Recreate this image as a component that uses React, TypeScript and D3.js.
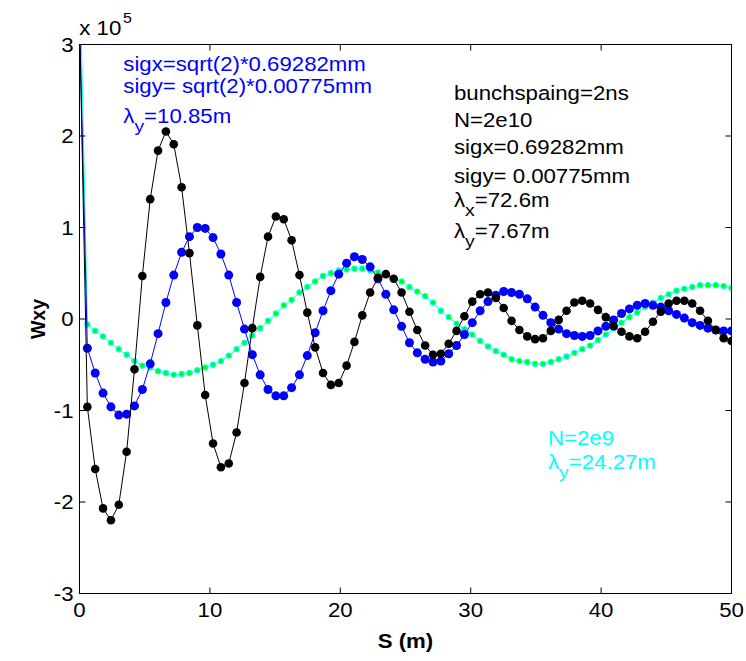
import React from 'react';
import * as d3 from 'd3';

const W = 746;
const H = 661;
const STEP = 50 / 83; // sample spacing (m)

// Wxy values in units of 1e5, one per sample (s = k * STEP)
const blackW = [
  3.3, -0.96, -1.64, -2.07, -2.2, -2.03, -1.45, -0.55, 0.47, 1.31,
  1.84, 2.05, 1.91, 1.44, 0.72, -0.07, -0.83, -1.36, -1.62, -1.58,
  -1.24, -0.7, -0.1, 0.46, 0.9, 1.12, 1.09, 0.86, 0.48, 0.07,
  -0.31, -0.59, -0.72, -0.7, -0.51, -0.25, 0.04, 0.29, 0.45, 0.49,
  0.44, 0.29, 0.08, -0.12, -0.29, -0.39, -0.38, -0.27, -0.13, 0.03,
  0.19, 0.27, 0.29, 0.23, 0.12, -0.02, -0.12, -0.19, -0.22, -0.21,
  -0.13, -0.01, 0.09, 0.18, 0.2, 0.17, 0.1, 0.02, -0.08, -0.14,
  -0.19, -0.21, -0.14, -0.03, 0.08, 0.17, 0.2, 0.2, 0.17, 0.09,
  -0.02, -0.12, -0.21, -0.24,
];
const blueW = [
  3.3, -0.32, -0.59, -0.81, -0.96, -1.05, -1.04, -0.95, -0.77, -0.49,
  -0.16, 0.18, 0.48, 0.73, 0.9, 1.0, 0.99, 0.89, 0.71, 0.48,
  0.18, -0.11, -0.39, -0.61, -0.77, -0.84, -0.84, -0.75, -0.61, -0.4,
  -0.15, 0.09, 0.31, 0.49, 0.61, 0.68, 0.65, 0.57, 0.44, 0.27,
  0.1, -0.08, -0.26, -0.37, -0.44, -0.47, -0.46, -0.38, -0.29, -0.17,
  -0.04, 0.09, 0.19, 0.26, 0.3, 0.29, 0.27, 0.22, 0.13, 0.04,
  -0.04, -0.11, -0.16, -0.18, -0.19, -0.18, -0.13, -0.08, -0.01, 0.06,
  0.11, 0.15, 0.17, 0.15, 0.13, 0.09, 0.05, 0.01, -0.04, -0.07,
  -0.1, -0.12, -0.13, -0.13,
];
const greenW = [
  4.0, -0.06, -0.13, -0.19, -0.26, -0.33, -0.39, -0.46, -0.51, -0.53,
  -0.57, -0.59, -0.61, -0.6, -0.59, -0.56, -0.53, -0.5, -0.46, -0.4,
  -0.33, -0.26, -0.18, -0.1, -0.02, 0.06, 0.15, 0.21, 0.29, 0.35,
  0.41, 0.47, 0.5, 0.53, 0.54, 0.55, 0.55, 0.53, 0.51, 0.48,
  0.45, 0.41, 0.35, 0.3, 0.25, 0.18, 0.09, 0.02, -0.05, -0.11,
  -0.17, -0.24, -0.3, -0.35, -0.39, -0.44, -0.46, -0.47, -0.49, -0.49,
  -0.47, -0.44, -0.41, -0.37, -0.33, -0.29, -0.23, -0.17, -0.1, -0.04,
  0.02, 0.07, 0.13, 0.18, 0.23, 0.27, 0.31, 0.33, 0.35, 0.37,
  0.37, 0.37, 0.36, 0.34,
];

const xTicks = [0, 10, 20, 30, 40, 50];
const yTicks = [-3, -2, -1, 0, 1, 2, 3];

const FONT = '"Liberation Sans", Arial, Helvetica, sans-serif';
const FS = 19.5;
const SX = 1.14;
const SUB = 17;

function T(props: any) {
  const { x, y, anchor = 'start', fill = '#000', weight = 'normal', size = FS, dy, children } = props;
  return (
    <text
      transform={`translate(${x},${y}) scale(${SX},1)`}
      textAnchor={anchor}
      fill={fill}
      fontWeight={weight}
      fontSize={size}
      fontFamily={FONT}
      dy={dy}
    >
      {children}
    </text>
  );
}

function Lam(props: any) {
  const { x, y, sub, rest, fill = '#000' } = props;
  return (
    <T x={x} y={y} fill={fill}>
      λ
      <tspan dy={9} fontSize={SUB}>{sub}</tspan>
      <tspan dy={-9} fontSize={FS}>{rest}</tspan>
    </T>
  );
}

export default function App() {
  const L = 79.5, R = 731.5, Tp = 44.5, B = 593.5;
  const x = d3.scaleLinear().domain([0, 50]).range([L, R]);
  const y = d3.scaleLinear().domain([-3, 3]).range([B, Tp]);
  const line = d3
    .line<number>()
    .x((_, i) => x(i * STEP))
    .y((d) => y(d));
  const tick = 6;

  return (
    <svg
      width={W}
      height={H}
      style={{ position: 'absolute', left: 0, top: 0, background: '#fff' }}
    >
      <rect x={0} y={0} width={W} height={H} fill="#fff" />
      <defs>
        <clipPath id="plotclip">
          <rect x={L} y={Tp} width={R - L} height={B - Tp} />
        </clipPath>
      </defs>

      <g clipPath="url(#plotclip)">
        {/* green series (N=2e9) */}
        <path d={line(greenW) || ''} fill="none" stroke="#00ffff" strokeWidth={1} />
        {greenW.map((d, i) => (
          <circle key={'g' + i} cx={x(i * STEP)} cy={y(d)} r={2.6} fill="#00ff00" stroke="#00ffff" strokeWidth={1.1} />
        ))}
        {/* blue series */}
        <path d={line(blueW) || ''} fill="none" stroke="#0000ff" strokeWidth={1} />
        {blueW.map((d, i) => (
          <circle key={'b' + i} cx={x(i * STEP)} cy={y(d)} r={4.5} fill="#0000ff" />
        ))}
        {/* black series */}
        <path d={line(blackW) || ''} fill="none" stroke="#000" strokeWidth={1} />
        {blackW.map((d, i) => (
          <circle key={'k' + i} cx={x(i * STEP)} cy={y(d)} r={4.3} fill="#000" />
        ))}
      </g>

      {/* axes box */}
      <rect x={L} y={Tp} width={R - L} height={B - Tp} fill="none" stroke="#000" strokeWidth={1} />
      {xTicks.map((t) => (
        <g key={'xt' + t}>
          <line x1={x(t)} x2={x(t)} y1={B} y2={B - tick} stroke="#000" />
          <line x1={x(t)} x2={x(t)} y1={Tp} y2={Tp + tick} stroke="#000" />
          <T x={x(t)} y={617} anchor="middle">{t}</T>
        </g>
      ))}
      {yTicks.map((t) => (
        <g key={'yt' + t}>
          <line x1={L} x2={L + tick} y1={y(t)} y2={y(t)} stroke="#000" />
          <line x1={R} x2={R - tick} y1={y(t)} y2={y(t)} stroke="#000" />
          <T x={73.5} y={y(t)} anchor="end" dy="0.36em">{t}</T>
        </g>
      ))}

      {/* exponent */}
      <T x={79.3} y={35}>x 10</T>
      <T x={123} y={23} size={14}>5</T>

      {/* axis labels */}
      <T x={405.5} y={648} anchor="middle" weight="bold">S (m)</T>
      <text
        transform="translate(45,319) rotate(-90)"
        textAnchor="middle"
        fontWeight="bold"
        fontSize={FS}
        fontFamily={FONT}
      >
        Wxy
      </text>

      {/* blue annotation */}
      <T x={123.3} y={71} fill="#0000ff">sigx=sqrt(2)*0.69282mm</T>
      <T x={123.3} y={92.5} fill="#0000ff">sigy= sqrt(2)*0.00775mm</T>
      <Lam x={123.3} y={123.3} sub="y" rest="=10.85m" fill="#0000ff" />

      {/* black annotation */}
      <T x={454} y={100}>bunchspaing=2ns</T>
      <T x={454} y={127.3}>N=2e10</T>
      <T x={454} y={154}>sigx=0.69282mm</T>
      <T x={454} y={182.7}>sigy= 0.00775mm</T>
      <Lam x={454} y={206.7} sub="x" rest="=72.6m" />
      <Lam x={454} y={237.7} sub="y" rest="=7.67m" />

      {/* cyan annotation */}
      <T x={548} y={445} fill="#00ffff">N=2e9</T>
      <Lam x={548} y={469} sub="y" rest="=24.27m" fill="#00ffff" />
    </svg>
  );
}
